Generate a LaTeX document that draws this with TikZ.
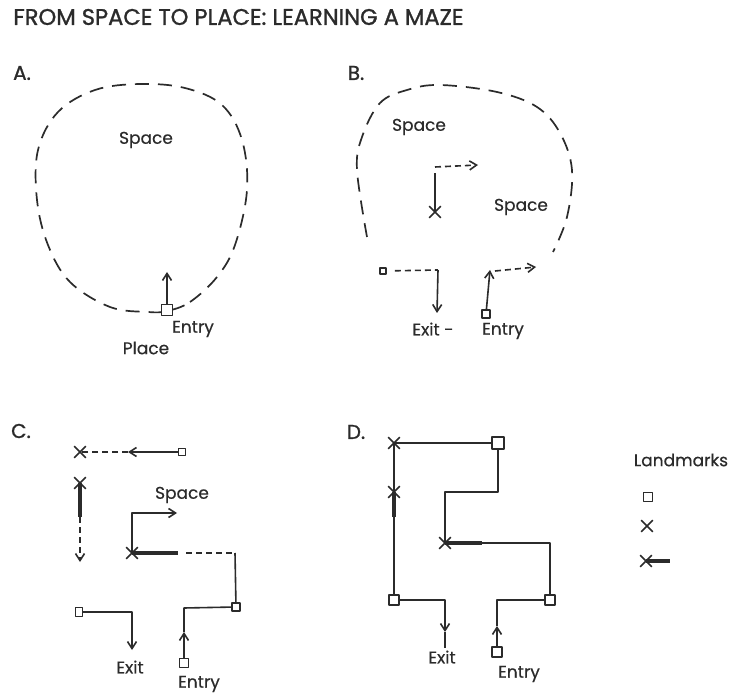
\documentclass[tikz,border=0pt]{standalone}
\usepackage{fontspec}
\setmainfont{Poppins}
\newfontfamily\headfont[FakeBold=1.2]{Poppins}
\newfontfamily\labelfont[FakeBold=0.4]{Poppins}
\usepackage{xcolor}
\usepackage{tikz}
\usetikzlibrary{arrows.meta, shapes.misc}
\definecolor{ink}{HTML}{2b2b2b}
\definecolor{paper}{HTML}{ffffff}
\begin{document}
\begin{tikzpicture}[x=0.5pt, y=-0.5pt, line join=round, lm/.style={draw=ink, fill=paper, line width=0.85pt, inner sep=0pt, minimum size=#1}, lmx/.style={draw=ink, cross out, line width=0.85pt, inner sep=0pt, minimum size=5pt}, walk/.style={draw=ink, line width=0.8pt}, hint/.style={draw=ink, line width=0.8pt, dash pattern=on 3pt off 2pt}, rim/.style={draw=ink, line width=0.85pt, dash pattern=on 7pt off 4.5pt}, heavy/.style={draw=ink, line width=1.8pt}, go/.style={-{Straight Barb[length=3.5pt, width=4.5pt]}}, txt/.style={font=\labelfont\fontsize{8.5}{10}\selectfont, text=ink, inner sep=1pt}, lettr/.style={font=\headfont\fontsize{10}{12}\selectfont, text=ink, inner sep=1pt}, ttl/.style={font=\headfont\fontsize{11.3}{14}\selectfont, text=ink, inner sep=0pt}]
\fill[paper] (0,0) rectangle (729,695);
\useasboundingbox (0,0) rectangle (729,695);
\node[ttl, anchor=west] (title) at (13,17) {FROM SPACE TO PLACE: LEARNING A MAZE};
\node[lettr] (la) at (22,73) {A.};
\draw[rim] plot[smooth cycle, tension=0.6] coordinates {(167,311) (190,302) (217,277) (235,245) (247,190) (242,140) (222,105) (185,88) (140,84) (95,90) (58,112) (38,150) (37,200) (48,245) (70,282) (110,307) (148,312)};
\node[lm=5.5pt] (aentry) at (167,310) {};
\coordinate (aup) at (167,272);
\draw[walk, go] (aentry) -- (aup);
\node[txt] (aspace) at (146,140) {Space};
\node[txt] (aentrytxt) at (193,329) {Entry};
\node[txt] (aplace) at (146,348) {Place};
\node[lettr] (lb) at (356,73) {B.};
\draw[rim] plot[smooth, tension=0.6] coordinates {(367,237) (357,170) (362,137) (380,103) (407,90) (440,85) (497,92) (537,107) (560,133) (572,170) (567,217) (553,252)};
\node[txt] (bspace) at (419,127) {Space};
\node[txt] (bspacetwo) at (521,207) {Space};
\node[lmx] (bx) at (435,212) {};
\coordinate (bcorner) at (435,173);
\draw[walk] (bx.center) -- (bcorner);
\coordinate (bdashstart) at (435,167);
\coordinate (bdashend) at (478,165);
\draw[hint, go] (bdashstart) -- (bdashend);
\node[lm=3pt] (bsq) at (383,271) {};
\coordinate (bexitcorner) at (438,270);
\coordinate (bexit) at (437,313);
\draw[hint, shorten <=4pt] (bsq) -- (bexitcorner);
\draw[walk, go] (bexitcorner) -- (bexit);
\node[txt] (bexittxt) at (433,329) {Exit -};
\node[lm=4pt] (bentry) at (486,314) {};
\coordinate (bup) at (490,270);
\draw[walk, go] (bentry) -- (bup);
\coordinate (bdashtwostart) at (495,271);
\coordinate (bdashtwoend) at (536,267);
\draw[hint, go] (bdashtwostart) -- (bdashtwoend);
\node[txt] (bentrytxt) at (503,331) {Entry};
\node[lettr] (lc) at (21,431) {C.};
\node[lmx] (cxone) at (80,452) {};
\node[lm=3.5pt] (csqone) at (182,452) {};
\coordinate (cmidone) at (128,452);
\draw[walk, go] (csqone) -- (cmidone);
\draw[hint] (cmidone) -- (cxone.center);
\node[lmx] (cxtwo) at (80,483) {};
\coordinate (cmidtwo) at (80,517);
\coordinate (cendtwo) at (80,562);
\draw[heavy] (cxtwo.center) -- (cmidtwo);
\draw[hint, go] (cmidtwo) -- (cendtwo);
\node[txt] (cspace) at (182,495) {Space};
\node[lmx] (cxthree) at (132,553) {};
\coordinate (cthick) at (178,553);
\coordinate (cturn) at (235,553);
\coordinate (cright) at (177,513);
\draw[heavy] (cxthree.center) -- (cthick);
\draw[hint, shorten <=4pt] (cthick) -- (cturn);
\draw[walk, go] (cxthree.center) |- (cright);
\node[lm=4pt] (csqtwo) at (236,607) {};
\draw[walk] (cturn) -- (csqtwo);
\node[lm=4.5pt] (centry) at (184,663) {};
\coordinate (carrow) at (184,632);
\coordinate (ccorner) at (184,608);
\draw[walk, go] (centry) -- (carrow);
\draw[walk] (carrow) -- (ccorner) -- (csqtwo);
\node[lm=3.5pt, minimum height=4.5pt] (csqthree) at (79,612) {};
\coordinate (cexit) at (132,650);
\draw[walk, go] (csqthree) -| (cexit);
\node[txt] (cexittxt) at (130,667) {Exit};
\node[txt] (centrytxt) at (199,684) {Entry};
\node[lettr] (ld) at (356,432) {D.};
\node[lmx] (dxone) at (394,443) {};
\node[lm=6pt] (dsqone) at (498,443) {};
\draw[walk] (dsqone) -- (dxone.center);
\node[lmx] (dxthree) at (445,543) {};
\coordinate (dstep) at (445,492);
\draw[walk] (dsqone) |- (dstep) -- (dxthree.center);
\coordinate (dthick) at (482,543);
\coordinate (dturn) at (550,543);
\node[lm=5pt] (dsqtwo) at (550,600) {};
\draw[heavy] (dxthree.center) -- (dthick);
\draw[walk] (dthick) -- (dturn) -- (dsqtwo);
\node[lm=5pt] (dentry) at (497,652) {};
\coordinate (darrow) at (497,626);
\coordinate (dcorner) at (497,600);
\draw[walk, go] (dentry) -- (darrow);
\draw[walk] (darrow) -- (dcorner) -- (dsqtwo);
\node[lmx] (dxtwo) at (394,492) {};
\draw[walk] (dxone.center) -- (dxtwo.center);
\coordinate (dthicktwo) at (394,517);
\draw[heavy] (dxtwo.center) -- (dthicktwo);
\node[lm=5pt] (dsqthree) at (394,600) {};
\draw[walk] (dthicktwo) -- (dsqthree);
\coordinate (darrowtwo) at (445,632);
\coordinate (dexit) at (445,648);
\draw[walk, go] (dsqthree) -| (darrowtwo);
\draw[walk] (darrowtwo) -- (dexit);
\node[txt] (dexittxt) at (442,657) {Exit};
\node[txt] (dentrytxt) at (519,674) {Entry};
\node[txt] (lgd) at (681,460) {Landmarks};
\node[lm=4.5pt] (lgsq) at (648,497) {};
\node[lmx] (lgx) at (647,526) {};
\node[lmx] (lgxa) at (646,561) {};
\coordinate (lgtail) at (670,561);
\draw[heavy] (lgxa.center) -- (lgtail);
\end{tikzpicture}
\end{document}
